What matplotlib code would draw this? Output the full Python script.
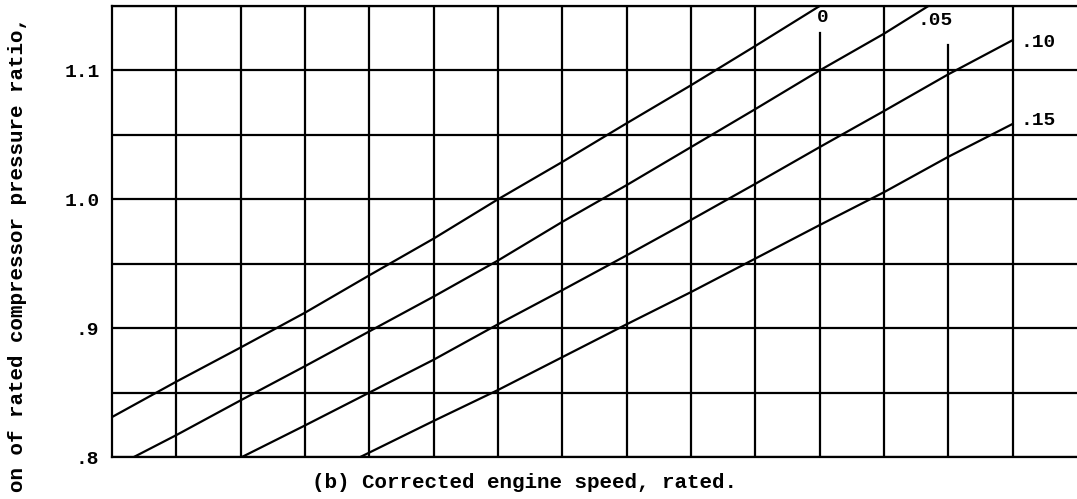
import numpy as np
import matplotlib.pyplot as plt

# grid columns of corrected engine speed (no tick labels in original)
# and pressure-ratio fraction
x_0 = [0, 1, 2, 3, 4, 5, 6, 7, 8, 9, 10, 11]
y_0 = [0.831, 0.8585, 0.885, 0.912, 0.941, 0.9695, 1.0, 1.029, 1.059, 1.0885, 1.119, 1.15]

x_05 = [0.34, 1, 2, 3, 4, 5, 6, 7, 8, 9, 10, 11, 12, 12.69]
y_05 = [0.8, 0.817, 0.844, 0.8705, 0.8975, 0.9245, 0.9525, 0.9825, 1.011, 1.0405, 1.07, 1.1, 1.1285, 1.15]

x_10 = [2.02, 3, 4, 5, 6, 7, 8, 9, 10, 11, 12, 13, 14]
y_10 = [0.8, 0.8245, 0.85, 0.8755, 0.903, 0.9295, 0.9565, 0.984, 1.012, 1.0405, 1.0685, 1.097, 1.1235]

x_15 = [3.86, 5, 6, 7, 8, 9, 10, 11, 12, 13, 14]
y_15 = [0.8, 0.828, 0.852, 0.8775, 0.903, 0.928, 0.954, 0.98, 1.0055, 1.033, 1.0585]

curve_labels = ["0", ".05", ".10", ".15"]
ytick_vals = [0.8, 0.85, 0.9, 0.95, 1.0, 1.05, 1.1, 1.15]
ytick_text = [".8", "", ".9", "", "1.0", "", "1.1", ""]

plt.rcParams['font.family'] = ['Liberation Mono', 'DejaVu Sans Mono']
plt.rcParams['font.weight'] = 'bold'

fig = plt.figure(figsize=(10.77, 4.99), dpi=100)
ax = fig.add_axes([112/1077, 1 - 457/499, 1 - 112/1077, (457 - 6)/499])

ax.set_xlim(0, 15)
ax.set_ylim(0.8, 1.15)

# horizontal grid
for yv in ytick_vals:
    ax.axhline(yv, color='black', linewidth=1.6, zorder=1)

# vertical grid, two lines broken by the curve labels
for xv in range(1, 15):
    top = 1.15
    if xv == 11:
        top = 1.15 - (33 - 6) / 64.2 * 0.05
    if xv == 13:
        top = 1.15 - (45 - 6) / 64.2 * 0.05
    ax.plot([xv, xv], [0.8, top], color='black', linewidth=1.6, zorder=1)

for xs, ys in [(x_0, y_0), (x_05, y_05), (x_10, y_10), (x_15, y_15)]:
    ax.plot(xs, ys, color='black', linewidth=1.6, zorder=2)

ax.text(11.05, 1.141, curve_labels[0], fontsize=14, ha='center', va='center')
ax.text(12.8, 1.139, curve_labels[1], fontsize=14, ha='center', va='center')
ax.text(14.4, 1.122, curve_labels[2], fontsize=14, ha='center', va='center')
ax.text(14.4, 1.061, curve_labels[3], fontsize=14, ha='center', va='center')

ax.set_yticks(ytick_vals)
ax.set_yticklabels(ytick_text, fontsize=14)
ax.set_xticks([])
ax.tick_params(axis='y', length=0, pad=9)

for s in ['left', 'bottom', 'top']:
    ax.spines[s].set_linewidth(1.6)
ax.spines['right'].set_visible(False)

fig.text(524/1077, 1 - 483/499, "(b) Corrected engine speed, rated.",
         fontsize=15, ha='center', va='center')
fig.text(18/1077, 1 - 255/499, "on of rated compressor pressure ratio,",
         fontsize=15, rotation=90, ha='center', va='center')

fig.savefig('out.png', dpi=100)
